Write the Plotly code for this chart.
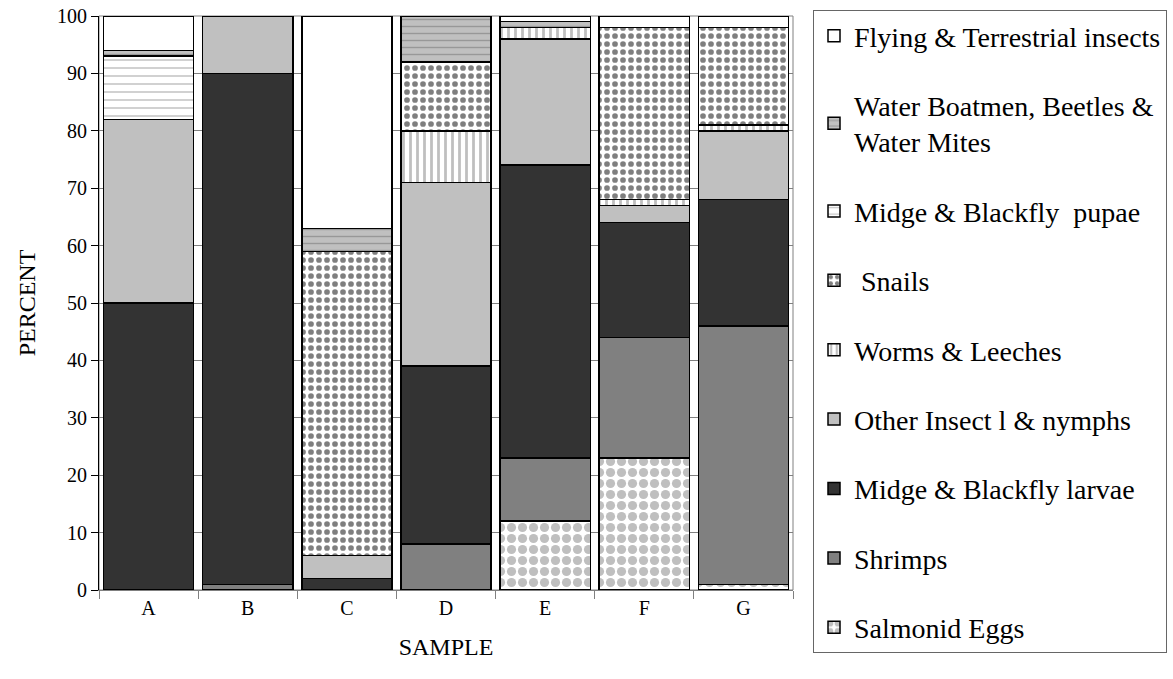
import plotly.graph_objects as go

samples = ["A", "B", "C", "D", "E", "F", "G"]

salmonid_eggs = [0, 0, 0, 0, 12, 23, 1]
shrimps = [0, 1, 0, 8, 11, 21, 45]
midge_larvae = [50, 89, 2, 31, 51, 20, 22]
other_insects = [32, 10, 4, 32, 22, 3, 12]
worms_leeches = [0, 0, 0, 9, 2, 1, 1]
snails = [0, 0, 53, 12, 0, 30, 17]
midge_pupae = [11, 0, 0, 0, 0, 0, 0]
water_boatmen = [1, 0, 4, 8, 1, 0, 0]
flying_insects = [6, 0, 37, 0, 1, 2, 2]

y_ticks = list(range(0, 101, 10))

FONT = "Liberation Serif, Times New Roman, serif"
W, H = 1173, 679

# name, values, fill colour, pattern (shape, fg colour, size, solidity)
series = [
    ("Salmonid Eggs", salmonid_eggs, "#ffffff", (".", "#808080", 11, 0.55)),
    ("Shrimps", shrimps, "#808080", None),
    ("Midge & Blackfly larvae", midge_larvae, "#333333", None),
    ("Other Insect l & nymphs", other_insects, "#c0c0c0", None),
    ("Worms & Leeches", worms_leeches, "#ffffff", ("|", "#808080", 7, 0.4)),
    (" Snails", snails, "#ffffff", (".", "#000000", 8, 0.4)),
    ("Midge & Blackfly  pupae", midge_pupae, "#ffffff", ("-", "#808080", 8, 0.18)),
    ("Water Boatmen, Beetles &<br>Water Mites", water_boatmen, "#c0c0c0", ("-", "#707070", 7, 0.2)),
    ("Flying & Terrestrial insects", flying_insects, "#ffffff", None),
]

fig = go.Figure()
for i, (name, vals, color, pat) in enumerate(series):
    marker = dict(color=color, line=dict(color="#000000", width=1.5))
    if pat:
        shape, fg, size, solidity = pat
        marker["pattern"] = dict(shape=shape, fgcolor=fg, bgcolor=color, size=size,
                                 solidity=solidity, fillmode="overlay")
    fig.add_bar(x=samples, y=vals, name=name, marker=marker,
                legendgroup=f"g{i}", legendrank=100 - i)

fig.update_layout(
    barmode="stack",
    bargap=0.09,
    width=W,
    height=H,
    margin=dict(l=99, r=W - 793, t=16, b=H - 590),
    plot_bgcolor="#ffffff",
    paper_bgcolor="#ffffff",
    font=dict(family=FONT, size=20, color="#000000"),
    legend=dict(
        xref="container",
        yref="container",
        x=813 / W,
        y=1 - 10 / H,
        xanchor="left",
        yanchor="top",
        traceorder="grouped",
        tracegroupgap=30,
        font=dict(family=FONT, size=28),
        bordercolor="#666666",
        borderwidth=1,
        itemwidth=30,
        maxheight=1.0,
    ),
    shapes=[
        dict(type="rect", xref="paper", yref="paper", x0=0, x1=1, y0=0, y1=1,
             line=dict(color="#808080", width=1), layer="below"),
    ],
)
fig.update_xaxes(
    title=dict(text="SAMPLE", standoff=20),
    automargin=False,
    tickson="boundaries",
    ticks="outside",
    ticklen=8,
    tickcolor="#808080",
    showline=True,
    linecolor="#808080",
    linewidth=1,
    showgrid=False,
)
fig.update_yaxes(
    title=dict(text="PERCENT", standoff=14),
    automargin=False,
    range=[0, 100],
    tickvals=y_ticks,
    ticklabeloverflow="allow",
    ticks="outside",
    ticklen=7,
    tickcolor="#000000",
    showline=True,
    linecolor="#000000",
    linewidth=1,
    showgrid=True,
    gridcolor="#808080",
    gridwidth=1,
    zeroline=False,
)

# drop the default body margin so the figure sits at the page origin
fig.write_html("out.html", config={"displayModeBar": False},
               post_script="document.body.style.margin='0';")
